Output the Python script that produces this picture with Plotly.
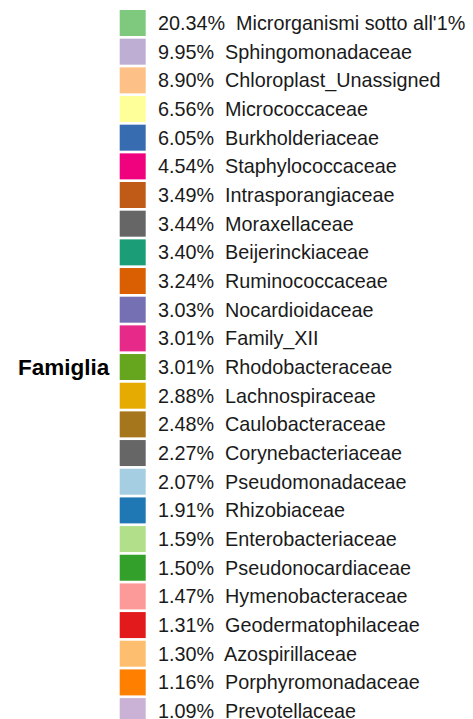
import plotly.graph_objects as go

# ---- data ----
families = [
    "Microrganismi sotto all'1%", "Sphingomonadaceae", "Chloroplast_Unassigned",
    "Micrococcaceae", "Burkholderiaceae", "Staphylococcaceae", "Intrasporangiaceae",
    "Moraxellaceae", "Beijerinckiaceae", "Ruminococcaceae", "Nocardioidaceae",
    "Family_XII", "Rhodobacteraceae", "Lachnospiraceae", "Caulobacteraceae",
    "Corynebacteriaceae", "Pseudomonadaceae", "Rhizobiaceae", "Enterobacteriaceae",
    "Pseudonocardiaceae", "Hymenobacteraceae", "Geodermatophilaceae",
    "Azospirillaceae", "Porphyromonadaceae", "Prevotellaceae",
]
percentages = [
    20.34, 9.95, 8.90, 6.56, 6.05, 4.54, 3.49, 3.44, 3.40, 3.24, 3.03, 3.01, 3.01,
    2.88, 2.48, 2.27, 2.07, 1.91, 1.59, 1.50, 1.47, 1.31, 1.30, 1.16, 1.09,
]
colors = [
    "#7FC97F", "#BEAED4", "#FDC086", "#FFFF99", "#386CB0", "#F0027F", "#BF5B17",
    "#666666", "#1B9E77", "#D95F02", "#7570B3", "#E7298A", "#66A61E", "#E6AB02",
    "#A6761D", "#666666", "#A6CEE3", "#1F78B4", "#B2DF8A", "#33A02C", "#FB9A99",
    "#E31A1C", "#FDBF6F", "#FF7F00", "#CAB2D6",
]
legend_title = "Famiglia"

labels = [f"{p:.2f}%  {n}" for p, n in zip(percentages, families)]

# page has an 8px body margin, so the figure is drawn 8px smaller
W, H = 465, 711
FONT = "Liberation Sans, Arial, Helvetica, sans-serif"

fig = go.Figure()
fig.add_trace(go.Scatter(
    x=[0] * len(families),
    y=families,
    mode="markers",
    marker=dict(symbol="square", size=26, color=colors, line=dict(width=0)),
    hoverinfo="skip",
    showlegend=False,
))

pitch = 28.67
first_center = 15.0
r0 = -first_center / pitch
r1 = r0 + H / pitch

axis_px = 143.0
key_center = 124.7

fig.update_layout(
    width=W, height=H, autosize=False,
    margin=dict(l=0, r=0, t=0, b=0, pad=0),
    paper_bgcolor="white", plot_bgcolor="white",
    showlegend=False,
    xaxis=dict(domain=[0, axis_px / W], range=[-key_center, axis_px - key_center],
               visible=False, fixedrange=True),
    yaxis=dict(
        type="category", categoryorder="array", categoryarray=families,
        range=[r1, r0], side="right", anchor="x",
        tickmode="array", tickvals=families, ticktext=labels,
        ticks="", showgrid=False, zeroline=False, showline=False,
        tickfont=dict(family=FONT, size=19.8, color="#1a1a1a"),
        ticklabelstandoff=6, automargin=False, fixedrange=True,
    ),
    annotations=[dict(
        text=f"<b>{legend_title}</b>", xref="paper", yref="paper",
        x=8 / W, y=1 - 359 / H, xanchor="left", yanchor="middle",
        showarrow=False, font=dict(family=FONT, size=22.5, color="#000000"),
    )],
)

fig.write_html("out.html")
